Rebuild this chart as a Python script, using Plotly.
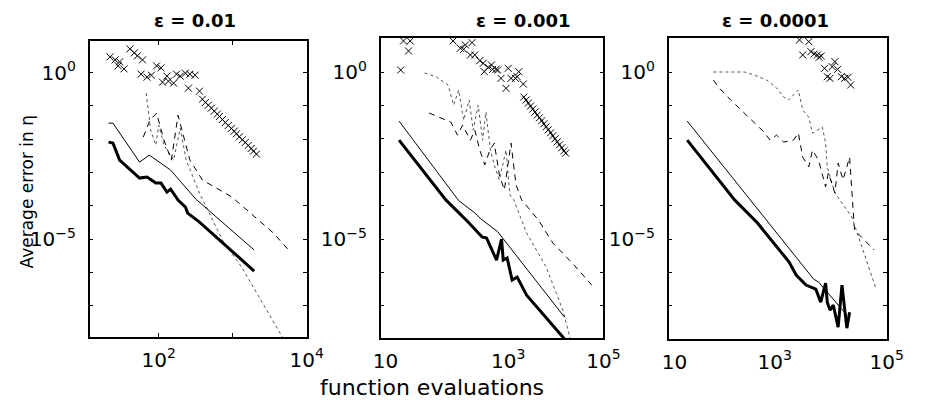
import numpy as np
import plotly.graph_objects as go

W, H = 927, 403

titles = ["ε = 0.01", "ε = 0.001", "ε = 0.0001"]
x_title = "function evaluations"
y_title = "Average error in η"

# ---------------- panel 1 (values given as log10 exponents) ----------------
p1_thick_lx = [1.32, 1.38, 1.47, 1.74, 1.84, 1.96, 2.03, 2.11, 2.16, 2.26, 2.36, 2.39, 2.55, 3.29]
p1_thick_ly = [-2.09, -2.12, -2.63, -3.17, -3.14, -3.32, -3.32, -3.59, -3.50, -3.83, -4.04, -4.22, -4.49, -5.96]
p1_thin_lx = [1.32, 1.38, 1.74, 1.87, 1.91, 2.16, 2.50, 3.29]
p1_thin_ly = [-1.52, -1.52, -2.69, -2.48, -2.54, -2.93, -3.80, -5.33]
p1_dash_lx = [1.79, 1.88, 1.97, 2.07, 2.17, 2.26, 2.42, 2.59, 2.99, 3.55, 3.78]
p1_dash_ly = [-1.94, -1.43, -1.22, -2.03, -2.63, -1.28, -2.63, -3.23, -3.74, -4.82, -5.39]
p1_dot_lx = [1.83, 1.89, 1.96, 2.00, 2.07, 2.20, 2.29, 2.37, 2.55, 2.68, 2.86, 3.12, 3.38, 3.67]
p1_dot_ly = [-0.62, -1.73, -2.18, -1.58, -2.18, -2.63, -1.67, -2.63, -3.62, -4.22, -5.03, -5.84, -6.83, -7.94]
p1_x_lx = [1.34, 1.41, 1.47, 1.45, 1.53, 1.61, 1.67, 1.71, 1.78, 1.76, 1.84, 1.90, 1.97, 2.03,
           2.05, 2.11, 2.13, 2.20, 2.24, 2.29, 2.36, 2.42, 2.49, 2.40, 2.55,
           2.59, 2.63, 2.67, 2.71, 2.75, 2.79, 2.82, 2.86, 2.90, 2.94, 2.98, 3.02, 3.05, 3.09,
           3.13, 3.17, 3.21, 3.25, 3.28, 3.32]
p1_x_ly = [0.47, 0.38, 0.32, 0.20, 0.11, 0.71, 0.59, 0.50, 0.38, -0.05, -0.14, -0.08, 0.20, 0.14,
           -0.29, -0.11, -0.26, -0.32, -0.05, -0.11, -0.02, -0.05, -0.08, -0.47, -0.56,
           -0.80, -0.90, -0.98, -1.07, -1.16, -1.25, -1.32, -1.41, -1.50, -1.59, -1.68, -1.76, -1.84, -1.93,
           -2.02, -2.10, -2.19, -2.28, -2.36, -2.45]

# ---------------- panel 2 ----------------
p2_thick_lx = [1.33, 2.17, 2.57, 2.82, 2.90, 3.08, 3.17, 3.20, 3.27, 3.36, 3.45, 3.62, 4.33]
p2_thick_ly = [-2.04, -3.83, -4.49, -4.94, -4.97, -5.63, -5.00, -5.63, -5.57, -6.23, -6.14, -6.68, -8.05]
p2_thin_lx = [1.33, 2.40, 2.69, 2.80, 3.10, 4.30]
p2_thin_ly = [-1.47, -3.85, -4.22, -4.40, -4.78, -7.34]
p2_dash_lx = [1.87, 2.08, 2.26, 2.38, 2.47, 2.61, 2.69, 2.78, 2.87, 2.96, 3.04, 3.13, 3.22, 3.34,
              3.43, 3.53, 3.83, 4.09, 4.44, 4.79]
p2_dash_ly = [-1.23, -1.38, -1.50, -1.89, -1.59, -2.04, -1.74, -2.34, -2.78, -2.34, -2.13, -3.08, -3.53, -2.13,
              -3.38, -3.83, -4.43, -5.12, -5.72, -6.38]
p2_dot_lx = [1.79, 2.00, 2.21, 2.31, 2.40, 2.49, 2.59, 2.66, 2.75, 2.83, 2.89, 2.97, 3.04, 3.13,
             3.25, 3.32, 3.39, 3.62, 3.97, 4.27, 4.41]
p2_dot_ly = [-0.03, -0.15, -0.39, -0.99, -0.54, -1.44, -0.84, -1.74, -0.99, -2.04, -1.20, -2.34, -2.78, -3.23,
             -2.34, -3.68, -3.83, -4.82, -5.84, -7.13, -8.02]
p2_x_lx = [1.41, 1.53, 1.50, 1.36, 2.30, 2.43, 2.49, 2.64, 2.52, 2.61, 2.69, 2.78, 2.84, 2.86,
           2.93, 2.99, 3.01, 3.07, 3.10, 3.16, 3.29, 3.34, 3.42, 3.48, 3.45, 3.25, 3.56,
           3.57, 3.61, 3.65, 3.69, 3.73, 3.77, 3.81, 3.85, 3.89, 3.93, 3.97, 4.01, 4.05, 4.09,
           4.13, 4.17, 4.21, 4.25, 4.29, 4.32]
p2_x_ly = [0.93, 0.93, 0.63, 0.06, 0.93, 0.71, 0.68, 0.88, 0.81, 0.51, 0.51, 0.34, 0.26, 0.01,
           0.14, 0.21, 0.08, 0.08, 0.06, -0.19, 0.11, -0.19, -0.19, 0.01, -0.14, -0.49, -0.36,
           -0.75, -0.84, -0.93, -1.02, -1.11, -1.20, -1.29, -1.37, -1.46, -1.55, -1.64, -1.73, -1.82, -1.91,
           -2.00, -2.09, -2.18, -2.27, -2.36, -2.43]

# ---------------- panel 3 ----------------
p3_thick_lx = [1.34, 2.21, 2.63, 3.21, 3.34, 3.52, 3.70, 3.79, 3.88, 3.91, 3.96, 4.02, 4.11, 4.18, 4.27, 4.32]
p3_thick_ly = [-2.04, -3.83, -4.52, -5.69, -6.08, -6.38, -6.50, -6.89, -6.32, -6.89, -7.13, -6.98, -7.64, -6.38, -7.67, -7.19]
p3_thin_lx = [1.34, 3.66, 3.75, 4.27]
p3_thin_ly = [-1.47, -6.20, -6.29, -7.28]
p3_dash_lx = [1.82, 1.91, 2.14, 2.39, 2.57, 2.75, 2.86, 2.98, 3.11, 3.29, 3.38, 3.46, 3.57, 3.64,
              3.75, 3.88, 3.93, 4.05, 4.11, 4.20, 4.32, 4.38, 4.41, 4.77]
p3_dash_ly = [-0.24, -0.45, -0.84, -1.23, -1.53, -1.80, -2.04, -1.89, -2.10, -2.04, -1.83, -2.55, -2.84, -2.34,
              -2.64, -3.44, -3.02, -3.62, -2.73, -3.23, -2.55, -3.83, -4.73, -5.33]
p3_dot_lx = [1.82, 2.39, 2.57, 2.80, 2.98, 3.11, 3.20, 3.38, 3.46, 3.57, 3.64, 3.82, 3.88, 3.91,
             4.05, 4.36, 4.46, 4.80]
p3_dot_ly = [0.00, 0.00, -0.09, -0.24, -0.48, -0.75, -0.84, -0.54, -1.14, -1.35, -1.83, -1.65, -2.13, -2.84,
             -3.62, -4.34, -4.82, -6.47]
p3_x_lx = [3.40, 3.57, 3.46, 3.61, 3.67, 3.73, 3.80, 3.76, 3.86, 4.00, 4.05, 4.10, 3.91, 3.96,
           4.17, 4.23, 4.29, 4.34]
p3_x_ly = [0.96, 0.91, 0.51, 0.61, 0.54, 0.51, 0.48, 0.44, 0.11, 0.16, 0.31, 0.08, -0.14, -0.19,
           -0.14, -0.19, -0.16, -0.39]

panels = [
    dict(thick=(p1_thick_lx, p1_thick_ly), thin=(p1_thin_lx, p1_thin_ly), dash=(p1_dash_lx, p1_dash_ly),
         dot=(p1_dot_lx, p1_dot_ly), cross=(p1_x_lx, p1_x_ly)),
    dict(thick=(p2_thick_lx, p2_thick_ly), thin=(p2_thin_lx, p2_thin_ly), dash=(p2_dash_lx, p2_dash_ly),
         dot=(p2_dot_lx, p2_dot_ly), cross=(p2_x_lx, p2_x_ly)),
    dict(thick=(p3_thick_lx, p3_thick_ly), thin=(p3_thin_lx, p3_thin_ly), dash=(p3_dash_lx, p3_dash_ly),
         dot=(p3_dot_lx, p3_dot_ly), cross=(p3_x_lx, p3_x_ly)),
]

# axis pixel boxes (left, right, top, bottom) and ranges
boxes = [(84, 307, 41, 337), (383, 612, 38, 338), (679, 903, 38, 339)]
x_ranges = [[1.066, 4.0], [1.0, 5.0], [1.0, 5.0]]
y_ranges = [[-7.94, 0.946], [-7.964, 1.018], [-7.994, 1.018]]

x_tickvals = [[100, 10000], [10 ** 1.087, 10 ** 3.288, 10 ** 5.0], [10 ** 1.107, 10 ** 2.946, 10 ** 5.0]]
x_ticktext = [["10<sup>2</sup>", "10<sup>4</sup>"], ["10", "10<sup>3</sup>", "10<sup>5</sup>"],
              ["10", "10<sup>3</sup>", "10<sup>5</sup>"]]
x_minor_vals = [1000]
y_tickvals = [1.0, 1e-5]
y_ticktext = ["10<sup>0</sup>", "10<sup>−5</sup>"]
y_minor_vals = [10.0 ** k for k in (-8, -7, -6, -4, -3, -2, -1, 1)]

FONT = "DejaVu Sans"
fig = go.Figure()

styles = {
    "dot": dict(mode="lines", line=dict(color="#555555", width=1, dash="dot")),
    "dash": dict(mode="lines", line=dict(color="black", width=1, dash="6px,5px")),
    "thin": dict(mode="lines", line=dict(color="black", width=1)),
    "thick": dict(mode="lines", line=dict(color="black", width=3)),
    "cross": dict(mode="markers", marker=dict(symbol="x-thin", size=7, line=dict(color="black", width=1), color="black")),
}

for i, p in enumerate(panels):
    suf = "" if i == 0 else str(i + 1)
    for key in ["dot", "dash", "thin", "thick", "cross"]:
        lx, ly = p[key]
        fig.add_trace(go.Scatter(x=10 ** np.array(lx), y=10 ** np.array(ly), xaxis="x" + suf, yaxis="y" + suf,
                                 showlegend=False, hoverinfo="skip", **styles[key]))

layout = dict(width=W, height=H, margin=dict(l=0, r=0, t=0, b=0), autosize=False,
              paper_bgcolor="white", plot_bgcolor="white", showlegend=False,
              font=dict(family=FONT, color="black"))

for i in range(3):
    suf = "" if i == 0 else str(i + 1)
    l, r, t, b = boxes[i]
    xa = dict(type="log", range=x_ranges[i], domain=[l / W, r / W], anchor="y" + suf,
              showline=True, linecolor="black", linewidth=1.5, mirror="ticks" if i == 0 else True,
              showgrid=False, zeroline=False, tickvals=x_tickvals[i], ticktext=x_ticktext[i],
              ticks="inside" if i == 0 else "", ticklen=4, tickcolor="black",
              tickfont=dict(family=FONT, size=20, color="black"), ticklabelstandoff=4)
    if i == 0:
        xa["minor"] = dict(tickvals=x_minor_vals, ticks="inside", ticklen=4, tickcolor="black", showgrid=False)
    ya = dict(type="log", range=y_ranges[i], domain=[1 - b / H, 1 - t / H], anchor="x" + suf,
              showline=True, linecolor="black", linewidth=1.5, mirror="ticks",
              showgrid=False, zeroline=False, tickvals=y_tickvals, ticktext=y_ticktext,
              ticks="inside", ticklen=4, tickcolor="black",
              minor=dict(tickvals=y_minor_vals, ticks="inside", ticklen=4, tickcolor="black", showgrid=False),
              tickfont=dict(family=FONT, size=20, color="black"), ticklabelstandoff=8)
    layout["xaxis" + suf] = xa
    layout["yaxis" + suf] = ya

fig.update_layout(**layout)

title_x = [192, 530, 789]
for i in range(3):
    fig.add_annotation(text="<b>" + titles[i] + "</b>", x=title_x[i] / W, y=1 - 20 / H, xref="paper", yref="paper",
                       showarrow=False, xanchor="center", yanchor="middle",
                       font=dict(family=FONT, size=18, color="black"))

fig.add_annotation(text=x_title, x=436 / W, y=1 - 387 / H, xref="paper", yref="paper", showarrow=False,
                   xanchor="center", yanchor="middle", font=dict(family=FONT, size=22, color="black"))
fig.add_annotation(text=y_title, x=20 / W, y=1 - 192 / H, xref="paper", yref="paper", showarrow=False,
                   textangle=-90, xanchor="center", yanchor="middle", font=dict(family=FONT, size=17, color="black"))

fig.write_html("out.html")
